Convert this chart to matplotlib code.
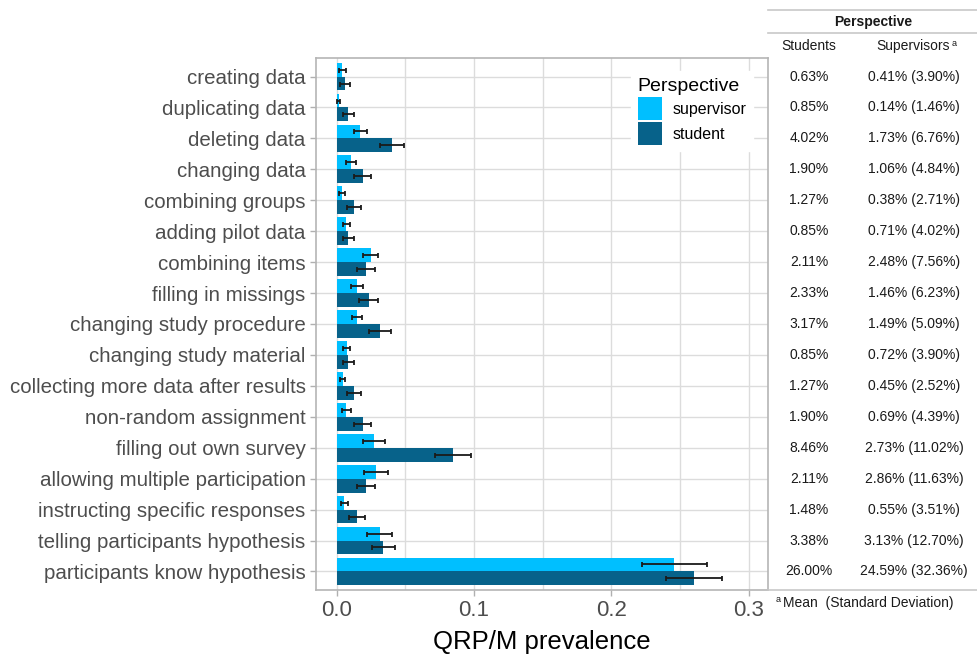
import matplotlib
matplotlib.use("Agg")
import matplotlib.pyplot as plt
import matplotlib.transforms as mtransforms
from matplotlib.lines import Line2D
import numpy as np

plt.rcParams['font.family'] = ['Liberation Sans', 'DejaVu Sans']

categories = ["creating data", "duplicating data", "deleting data", "changing data",
              "combining groups", "adding pilot data", "combining items",
              "filling in missings", "changing study procedure", "changing study material",
              "collecting more data after results", "non-random assignment",
              "filling out own survey", "allowing multiple participation",
              "instructing specific responses", "telling participants hypothesis",
              "participants know hypothesis"]

# prevalence (fraction) per perspective
student = [0.0063, 0.0085, 0.0402, 0.0190, 0.0127, 0.0085, 0.0211, 0.0233, 0.0317,
           0.0085, 0.0127, 0.0190, 0.0846, 0.0211, 0.0148, 0.0338, 0.2600]
supervisor = [0.0041, 0.0014, 0.0173, 0.0106, 0.0038, 0.0071, 0.0248, 0.0146, 0.0149,
              0.0072, 0.0045, 0.0069, 0.0273, 0.0286, 0.0055, 0.0313, 0.2459]
# error bar half widths
student_err = [0.0036, 0.0042, 0.0090, 0.0063, 0.0052, 0.0042, 0.0066, 0.0069, 0.0081,
               0.0042, 0.0052, 0.0063, 0.0128, 0.0066, 0.0056, 0.0083, 0.0202]
supervisor_err = [0.0028, 0.0011, 0.0049, 0.0035, 0.0020, 0.0029, 0.0055, 0.0045, 0.0037,
                  0.0028, 0.0018, 0.0032, 0.0080, 0.0084, 0.0026, 0.0092, 0.0235]

# table on the right
students_col = ["0.63%", "0.85%", "4.02%", "1.90%", "1.27%", "0.85%", "2.11%", "2.33%",
                "3.17%", "0.85%", "1.27%", "1.90%", "8.46%", "2.11%", "1.48%", "3.38%",
                "26.00%"]
supervisors_col = ["0.41% (3.90%)", "0.14% (1.46%)", "1.73% (6.76%)", "1.06% (4.84%)",
                   "0.38% (2.71%)", "0.71% (4.02%)", "2.48% (7.56%)", "1.46% (6.23%)",
                   "1.49% (5.09%)", "0.72% (3.90%)", "0.45% (2.52%)", "0.69% (4.39%)",
                   "2.73% (11.02%)", "2.86% (11.63%)", "0.55% (3.51%)", "3.13% (12.70%)",
                   "24.59% (32.36%)"]

c_sup = "#00BFFF"
c_stu = "#07628A"
grid_c = "#DCDCDC"
txt_c = "#4D4D4D"

fig = plt.figure(figsize=(9.78, 6.56), dpi=100)
ax = fig.add_axes([316/978, 1-590/656, (768-316)/978, (590-58)/656])

y = np.arange(len(categories))
h = 0.45
ax.barh(y - h/2, supervisor, height=h, color=c_sup, label="supervisor", zorder=2)
ax.barh(y + h/2, student, height=h, color=c_stu, label="student", zorder=2)
ax.errorbar(supervisor, y - h/2, xerr=supervisor_err, fmt="none", ecolor="#1A1A1A",
            elinewidth=1.3, capsize=1.8, capthick=1.3, zorder=3)
ax.errorbar(student, y + h/2, xerr=student_err, fmt="none", ecolor="#1A1A1A",
            elinewidth=1.3, capsize=1.8, capthick=1.3, zorder=3)

ax.set_xlim(-0.0151, 0.3140)
ax.set_ylim(len(categories) - 0.4, -0.6)
ax.set_yticks(y)
ax.set_yticklabels(categories, fontsize=14.8, color=txt_c)
ax.set_xticks([0, 0.1, 0.2, 0.3])
ax.set_xticklabels(["0.0", "0.1", "0.2", "0.3"], fontsize=16, color=txt_c)
ax.set_xticks([0.05, 0.15, 0.25], minor=True)
ax.tick_params(axis="both", which="major", length=4, color="#B0B0B0", width=1)
ax.tick_params(axis="x", which="minor", length=0)
ax.grid(True, which="both", color=grid_c, linewidth=1, zorder=0)
ax.set_axisbelow(True)
for s in ax.spines.values():
    s.set_color("#B5B5B5")
    s.set_linewidth(1.2)
    s.set_zorder(10)
ax.set_xlabel("QRP/M prevalence", fontsize=18.5, color="black", labelpad=6)

leg = ax.legend(loc="upper right", bbox_to_anchor=(0.985, 0.99), title="Perspective",
                fontsize=11.5, title_fontsize=14, frameon=True, fancybox=False,
                edgecolor="white", handlelength=1.5, handleheight=1.8,
                labelspacing=0.15, borderpad=0.4, handletextpad=0.7)
leg._legend_box.align = "left"
leg.get_frame().set_alpha(1)
leg.set_zorder(5)

# table
tr = mtransforms.blended_transform_factory(fig.transFigure, ax.transData)
x_stu = 809/978
x_sup = 914/978
for i in range(len(categories)):
    fig.text(x_stu, i, students_col[i], transform=tr, ha="center", va="center",
             fontsize=10, color="#1A1A1A")
    fig.text(x_sup, i, supervisors_col[i], transform=tr, ha="center", va="center",
             fontsize=10, color="#1A1A1A")

line_c = "#C8C8C8"
fig.add_artist(Line2D([768/978, 1], [1-10/656, 1-10/656], color=line_c, lw=1.2))
fig.add_artist(Line2D([768/978, 1], [1-33/656, 1-33/656], color=line_c, lw=1.2))
fig.add_artist(Line2D([768/978, 1], [1-590/656, 1-590/656], color=line_c, lw=1.2))
fig.text(873/978, 1-22/656, "Perspective", ha="center", va="center", fontsize=10,
         fontweight="bold", color="#1A1A1A")
fig.text(x_stu, 1-46/656, "Students", ha="center", va="center", fontsize=10,
         color="#1A1A1A")
fig.text(913/978, 1-46/656, "Supervisors", ha="center", va="center", fontsize=10,
         color="#1A1A1A")
fig.text(952/978, 1-44/656, "a", ha="left", va="center", fontsize=6.5, color="#1A1A1A")
fig.text(776/978, 1-600/656, "a", ha="left", va="center", fontsize=6.5, color="#1A1A1A")
fig.text(783/978, 1-603/656, "Mean  (Standard Deviation)", ha="left", va="center",
         fontsize=10, color="#1A1A1A")

fig.savefig("out.png", dpi=100)
